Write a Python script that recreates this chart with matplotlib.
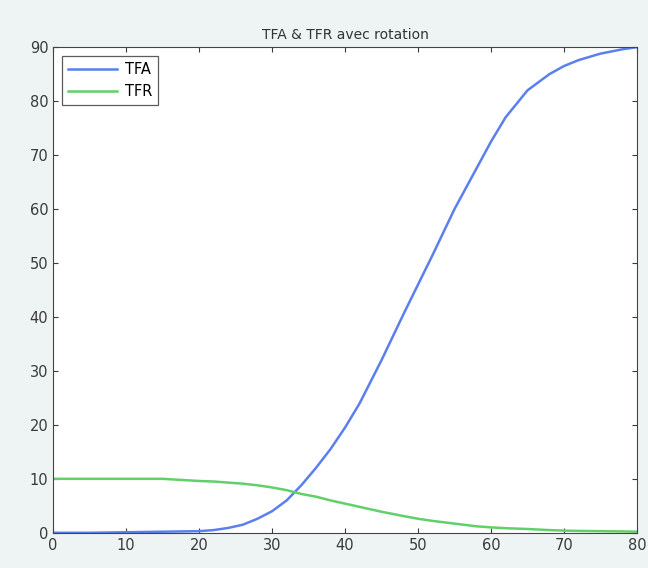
import matplotlib
matplotlib.use("Agg")
import matplotlib.pyplot as plt
import numpy as np

# values
t = [0, 5, 10, 15, 20, 22, 24, 26, 28, 30, 32, 34, 36, 38, 40, 42, 45, 48, 50, 52, 55, 58, 60, 62, 65, 68, 70, 72, 75, 78, 80]
tfa = [0, 0, 0.1, 0.2, 0.3, 0.5, 0.9, 1.5, 2.6, 4.0, 6.0, 8.8, 12, 15.5, 19.5, 24, 32, 40.5, 46, 51.5, 60, 67.5, 72.5, 77, 82, 85, 86.5, 87.6, 88.8, 89.6, 90]
tfr = [10, 10, 10, 10, 9.6, 9.5, 9.3, 9.1, 8.8, 8.4, 7.9, 7.2, 6.7, 6.0, 5.4, 4.8, 3.9, 3.1, 2.6, 2.2, 1.7, 1.2, 1.0, 0.85, 0.7, 0.5, 0.4, 0.35, 0.3, 0.25, 0.2]

fig = plt.figure(figsize=(6.48, 5.68), dpi=100, facecolor='#eef3f3')
ax = fig.add_axes([0.082, 0.062, 0.901, 0.855])

ax.plot(t, tfa, color='#5b80ee', linewidth=1.8, label='TFA')
ax.plot(t, tfr, color='#62d06a', linewidth=1.8, label='TFR')

ax.set_xlim(0, 80)
ax.set_ylim(0, 90)
ax.set_xticks(np.arange(0, 81, 10))
ax.set_yticks(np.arange(0, 91, 10))
ax.tick_params(direction='in', top=True, right=True, labelsize=10.5, colors='#3a3a3a')
for s in ax.spines.values():
    s.set_color('#444444')
ax.set_title('TFA & TFR avec rotation', fontsize=10, color='#333333')

leg = ax.legend(loc='upper left', fancybox=False, edgecolor='#333333', fontsize=10.5,
                handlelength=3.4, handletextpad=0.5, borderaxespad=0.6)
leg.get_frame().set_linewidth(0.9)

fig.savefig('out.png', facecolor=fig.get_facecolor())
